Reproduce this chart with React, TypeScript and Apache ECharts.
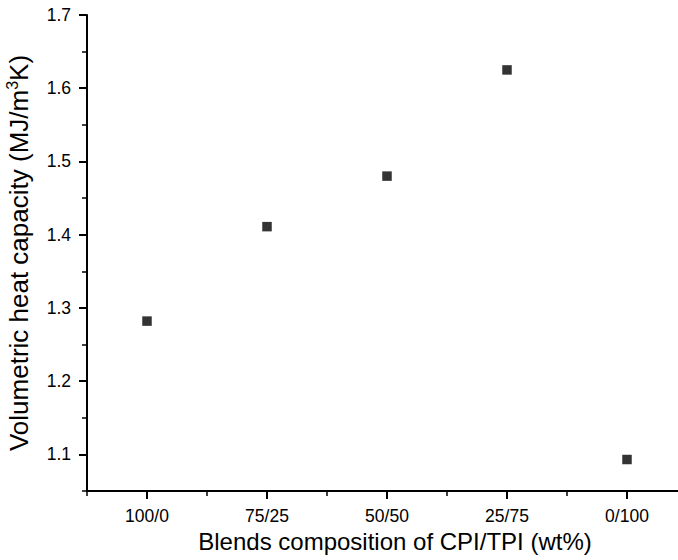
import React, { useEffect, useRef } from "react";
import * as echarts from "echarts";

const categories = ["100/0", "75/25", "50/50", "25/75", "0/100"];
const heatCapacity = [1.282, 1.411, 1.48, 1.625, 1.093];
const yMajorTicks = [1.1, 1.2, 1.3, 1.4, 1.5, 1.6, 1.7];
const yMinorTicks = [1.05, 1.15, 1.25, 1.35, 1.45, 1.55, 1.65];
const xMajorTicks = [1, 2, 3, 4, 5];
const xMinorTicks = [0.5, 1.5, 2.5, 3.5, 4.5];

const FONT = "Liberation Sans, Arial, sans-serif";

export default function App() {
  const ref = useRef<HTMLDivElement>(null);
  useEffect(() => {
    if (!ref.current) return;
    const chart = echarts.init(ref.current, null, { renderer: "svg" });
    const axisLine = { show: true, lineStyle: { color: "#000", width: 2 } };
    chart.setOption({
      animation: false,
      backgroundColor: "#fff",
      grid: { left: 87, right: 0, top: 15, bottom: 69, containLabel: false, outerBoundsMode: "none" },
      xAxis: [
        {
          type: "value",
          min: 0.5,
          max: 5.425,
          axisLine,
          splitLine: { show: false },
          axisTick: { show: true, inside: false, length: 8, lineStyle: { color: "#000", width: 2 }, customValues: xMajorTicks },
          axisLabel: {
            show: true,
            customValues: xMajorTicks,
            formatter: (v: number) => categories[Math.round(v) - 1] ?? "",
            color: "#000",
            fontFamily: FONT,
            fontSize: 17.5,
            margin: 16,
          },
          name: "Blends composition of CPI/TPI (wt%)",
          nameLocation: "middle",
          nameGap: 38,
          nameTextStyle: { color: "#000", fontFamily: FONT, fontSize: 24, padding: [0, 0, 0, 25] },
        },
        {
          type: "value",
          min: 0.5,
          max: 5.425,
          position: "bottom",
          axisLine: { show: false },
          splitLine: { show: false },
          axisTick: { show: true, inside: false, length: 5, lineStyle: { color: "#000", width: 1.5 }, customValues: xMinorTicks },
          axisLabel: { show: false },
        },
      ],
      yAxis: [
        {
          type: "value",
          min: 1.05,
          max: 1.7,
          axisLine,
          splitLine: { show: false },
          axisTick: { show: true, inside: false, length: 8, lineStyle: { color: "#000", width: 2 }, customValues: yMajorTicks },
          axisLabel: {
            show: true,
            customValues: yMajorTicks,
            formatter: (v: number) => v.toFixed(1),
            color: "#000",
            fontFamily: FONT,
            fontSize: 17.5,
            margin: 16,
          },
          name: "Volumetric heat capacity (MJ/m{sup|3}K)",
          nameLocation: "middle",
          nameGap: 53,
          nameTextStyle: {
            color: "#000",
            fontFamily: FONT,
            fontSize: 26,
            rich: {
              sup: { fontFamily: FONT, fontSize: 16, color: "#000", verticalAlign: "top", padding: [0, 0, 14, 0] },
            },
          },
        },
        {
          type: "value",
          min: 1.05,
          max: 1.7,
          position: "left",
          axisLine: { show: false },
          splitLine: { show: false },
          axisTick: { show: true, inside: false, length: 5, lineStyle: { color: "#000", width: 1.5 }, customValues: yMinorTicks },
          axisLabel: { show: false },
        },
      ],
      series: [
        {
          type: "scatter",
          xAxisIndex: 0,
          yAxisIndex: 0,
          symbol: "rect",
          symbolSize: 9.5,
          itemStyle: { color: "#000" },
          data: heatCapacity.map((v, i) => [i + 1, v]),
        },
      ],
    });
    return () => chart.dispose();
  }, []);
  return <div ref={ref} style={{ width: 678, height: 560, position: "absolute", left: 0, top: 0 }} />;
}
